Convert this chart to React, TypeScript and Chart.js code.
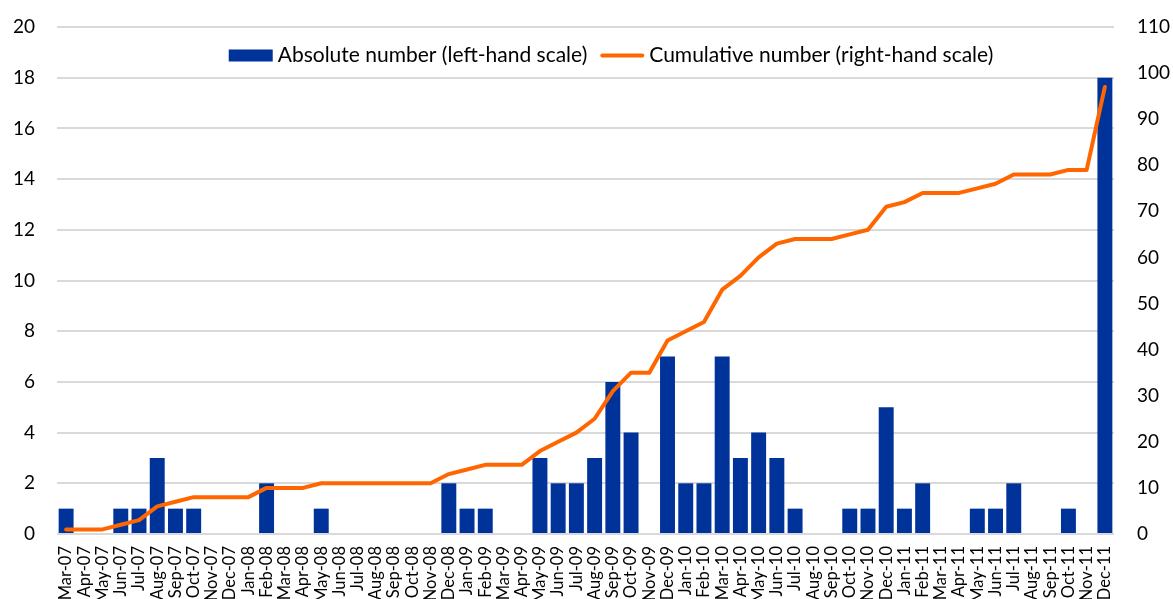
import React, { useEffect, useRef } from 'react';
import { Chart, registerables } from 'chart.js';

Chart.register(...registerables);

const months: string[] = [
  'Mar-07', 'Apr-07', 'May-07', 'Jun-07', 'Jul-07', 'Aug-07', 'Sep-07', 'Oct-07', 'Nov-07', 'Dec-07',
  'Jan-08', 'Feb-08', 'Mar-08', 'Apr-08', 'May-08', 'Jun-08', 'Jul-08', 'Aug-08', 'Sep-08', 'Oct-08', 'Nov-08', 'Dec-08',
  'Jan-09', 'Feb-09', 'Mar-09', 'Apr-09', 'May-09', 'Jun-09', 'Jul-09', 'Aug-09', 'Sep-09', 'Oct-09', 'Nov-09', 'Dec-09',
  'Jan-10', 'Feb-10', 'Mar-10', 'Apr-10', 'May-10', 'Jun-10', 'Jul-10', 'Aug-10', 'Sep-10', 'Oct-10', 'Nov-10', 'Dec-10',
  'Jan-11', 'Feb-11', 'Mar-11', 'Apr-11', 'May-11', 'Jun-11', 'Jul-11', 'Aug-11', 'Sep-11', 'Oct-11', 'Nov-11', 'Dec-11',
];

const absoluteNumber: number[] = [
  1, 0, 0, 1, 1, 3, 1, 1, 0, 0,
  0, 2, 0, 0, 1, 0, 0, 0, 0, 0, 0, 2,
  1, 1, 0, 0, 3, 2, 2, 3, 6, 4, 0, 7,
  2, 2, 7, 3, 4, 3, 1, 0, 0, 1, 1, 5,
  1, 2, 0, 0, 1, 1, 2, 0, 0, 1, 0, 18,
];

const cumulativeNumber: number[] = [
  1, 1, 1, 2, 3, 6, 7, 8, 8, 8,
  8, 10, 10, 10, 11, 11, 11, 11, 11, 11, 11, 13,
  14, 15, 15, 15, 18, 20, 22, 25, 31, 35, 35, 42,
  44, 46, 53, 56, 60, 63, 64, 64, 64, 65, 66, 71,
  72, 74, 74, 74, 75, 76, 78, 78, 78, 79, 79, 97,
];

const seriesLabels: string[] = [
  'Absolute number (left-hand scale)',
  'Cumulative number (right-hand scale)',
];

const leftAxisRange: number[] = [0, 20, 2];
const rightAxisRange: number[] = [0, 110, 10];

const BAR_COLOR = '#003399';
const LINE_COLOR = '#FF6600';
const GRID_COLOR = '#d9d9d9';
const FONT = 'Lato, "Open Sans", sans-serif';

const legendPlugin = {
  id: 'insideLegend',
  afterDraw(chart: any) {
    const { ctx, chartArea } = chart;
    const fontSize = 21;
    const swatchW = 44;
    const gapText = 5;
    const gapItem = 13;
    ctx.save();
    ctx.font = `${fontSize}px ${FONT}`;
    ctx.textBaseline = 'middle';
    ctx.textAlign = 'left';
    const widths = seriesLabels.map((t) => ctx.measureText(t).width);
    const total = widths.reduce((a, w) => a + swatchW + gapText + w, 0) + gapItem * (seriesLabels.length - 1);
    const cx = (chartArea.left + chartArea.right) / 2 + 25.5;
    const cy = chartArea.top + 28.5;
    let x = cx - total / 2;
    seriesLabels.forEach((label, i) => {
      if (i === 0) {
        ctx.fillStyle = BAR_COLOR;
        ctx.fillRect(x, cy - 6, swatchW, 12);
      } else {
        ctx.strokeStyle = LINE_COLOR;
        ctx.lineWidth = 4;
        ctx.lineCap = 'round';
        ctx.beginPath();
        ctx.moveTo(x + 2, cy);
        ctx.lineTo(x + swatchW - 2, cy);
        ctx.stroke();
      }
      x += swatchW + gapText;
      ctx.fillStyle = '#000000';
      ctx.fillText(label, x, cy);
      x += widths[i] + gapItem;
    });
    ctx.restore();
  },
};

export default function App() {
  const canvasRef = useRef<HTMLCanvasElement | null>(null);

  useEffect(() => {
    if (!canvasRef.current) return;
    const tickFont = { family: FONT, size: 19 };
    const chart = new Chart(canvasRef.current, {
      type: 'bar',
      data: {
        labels: months,
        datasets: [
          {
            type: 'bar',
            label: seriesLabels[0],
            data: absoluteNumber,
            backgroundColor: BAR_COLOR,
            yAxisID: 'yLeft',
            order: 1,
            barPercentage: 0.82,
            categoryPercentage: 1,
          },
          {
            type: 'line',
            label: seriesLabels[1],
            data: cumulativeNumber,
            borderColor: LINE_COLOR,
            backgroundColor: LINE_COLOR,
            borderWidth: 4,
            pointRadius: 0,
            tension: 0,
            borderJoinStyle: 'round',
            borderCapStyle: 'round',
            yAxisID: 'yRight',
            order: 0,
          },
        ] as any,
      },
      options: {
        responsive: false,
        animation: false,
        layout: { padding: { top: 27, left: 0, right: 0, bottom: 0 } },
        plugins: {
          legend: { display: false },
          tooltip: { enabled: false },
        },
        scales: {
          x: {
            grid: { display: false, drawTicks: false },
            border: { display: false },
            ticks: {
              autoSkip: false,
              minRotation: 90,
              maxRotation: 90,
              padding: 12,
              color: '#000000',
              font: { family: FONT, size: 16.5 },
            },
            afterFit(scale: any) {
              scale.height = 86;
            },
          },
          yLeft: {
            position: 'left',
            min: leftAxisRange[0],
            max: leftAxisRange[1],
            ticks: { stepSize: leftAxisRange[2], padding: 22, color: '#000000', font: tickFont },
            grid: { color: GRID_COLOR, lineWidth: 2, drawTicks: false },
            border: { display: false },
            afterFit(scale: any) {
              scale.width = 57;
              scale.paddingTop = 0;
              scale.paddingBottom = 0;
            },
          },
          yRight: {
            position: 'right',
            min: rightAxisRange[0],
            max: rightAxisRange[1],
            ticks: { stepSize: rightAxisRange[2], padding: 23, color: '#000000', font: tickFont },
            grid: { display: false, drawTicks: false },
            border: { display: false },
            afterFit(scale: any) {
              scale.width = 59;
              scale.paddingTop = 0;
              scale.paddingBottom = 0;
            },
          },
        },
      } as any,
      plugins: [legendPlugin],
    });
    return () => chart.destroy();
  }, []);

  return (
    <div style={{ position: 'absolute', left: 0, top: 0, width: 1173, height: 599, overflow: 'hidden', background: '#ffffff' }}>
      <canvas ref={canvasRef} width={1173} height={620} style={{ display: 'block' }} />
    </div>
  );
}
